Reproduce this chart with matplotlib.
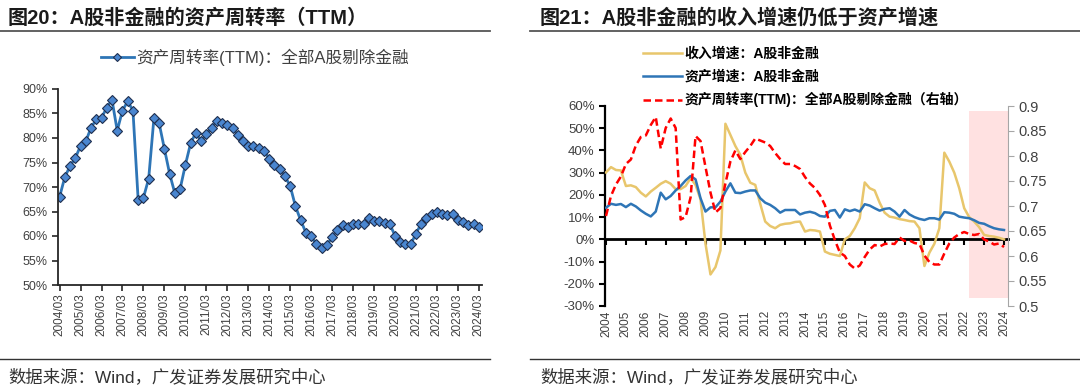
import matplotlib
matplotlib.use("Agg")
import matplotlib.pyplot as plt
from matplotlib.ticker import FuncFormatter, FixedLocator

plt.rcParams['font.family'] = ['Liberation Sans', 'Noto Sans CJK SC', 'DejaVu Sans']
plt.rcParams['axes.unicode_minus'] = False

# ---------------- data ----------------
quarters = [f"{y}/{m:02d}" for y in range(2004, 2025) for m in (3, 6, 9, 12)][:81]

turnover_pct = [68.0, 72.0, 74.3, 75.9, 78.4, 79.3, 82.1, 83.8, 84.1, 86.2,
                87.8, 81.5, 85.6, 87.5, 85.6, 67.3, 67.8, 71.7, 84.0, 83.0,
                77.8, 72.7, 68.7, 69.6, 74.5, 78.9, 81.1, 79.4, 80.8, 82.0,
                83.5, 83.1, 82.7, 82.0, 80.6, 79.4, 78.4, 78.4, 78.0, 77.4,
                75.8, 74.5, 73.6, 72.2, 70.2, 66.1, 63.2, 60.7, 60.0, 58.3,
                57.5, 58.1, 59.8, 61.3, 62.2, 61.9, 62.4, 62.5, 62.4, 63.7,
                63.0, 63.1, 62.6, 62.4, 60.1, 58.8, 58.3, 58.3, 60.5, 62.5,
                63.7, 64.4, 64.8, 64.4, 64.2, 64.4, 63.3, 62.9, 62.3, 62.5,
                61.8]

revenue_growth = [30.1, 32.5, 31.2, 31.0, 24.0, 24.3, 23.5, 21.0, 19.3, 21.5,
                  23.2, 25.0, 26.2, 25.0, 22.6, 22.6, 24.0, 27.5, 24.5, 18.0,
                  -2.0, -15.8, -12.5, -5.0, 52.0, 47.0, 42.0, 38.0, 30.0, 25.5,
                  24.5, 16.0, 8.0, 6.0, 5.0, 6.5, 7.0, 7.2, 7.8, 8.0,
                  3.5, 4.2, 4.0, 3.5, -5.5, -6.5, -7.0, -7.5, 0.0, 1.5,
                  5.0, 9.5, 25.6, 23.0, 22.0, 16.5, 12.0, 10.2, 9.8, 9.1,
                  8.7, 8.2, 8.0, 5.0, -12.0, -6.0, -2.0, 5.0, 39.0, 35.0,
                  30.0, 23.0, 14.0, 10.0, 8.0, 5.5, 2.0, 1.5, 1.2, 0.7,
                  0.0]

asset_growth = [14.2, 16.0, 15.5, 15.9, 14.5, 16.0, 14.8, 13.0, 11.5, 10.3,
                12.5, 21.0, 18.0, 19.5, 22.0, 24.0, 26.5, 28.5, 27.0, 18.5,
                12.5, 14.4, 14.4, 17.0, 21.5, 25.2, 21.0, 20.8, 21.5, 22.0,
                22.0, 18.5, 16.5, 15.5, 14.0, 12.0, 13.2, 13.2, 13.2, 11.2,
                12.0, 12.4, 11.8, 10.5, 10.2, 12.8, 13.2, 9.8, 13.5, 12.7,
                13.4, 12.5, 15.8, 15.2, 14.0, 12.9, 13.7, 14.0, 12.5, 10.2,
                13.2, 11.2, 10.0, 9.2, 8.7, 9.5, 9.5, 8.9, 12.2, 12.0,
                11.5, 10.2, 9.8, 9.5, 8.6, 7.4, 7.0, 5.9, 5.0, 4.5,
                4.2]

turnover_ratio = [v / 100 for v in turnover_pct]

shade_start = "2022/06"

title_left = "图20：A股非金融的资产周转率（TTM）"
title_right = "图21：A股非金融的收入增速仍低于资产增速"
legend_left = "资产周转率(TTM)：全部A股剔除金融"
legend_rev = "收入增速：A股非金融"
legend_asset = "资产增速：A股非金融"
legend_turn = "资产周转率(TTM)：全部A股剔除金融（右轴）"
source = "数据来源：Wind，广发证券发展研究中心"

# ---------------- figure ----------------
W, H = 1080, 391
fig = plt.figure(figsize=(W / 100, H / 100), dpi=100)
fig.patch.set_facecolor("white")

def fx(px):
    return px / W

def fy(py):
    return 1 - py / H

TXT = "#404040"
x = list(range(len(quarters)))

# titles & rules
fig.text(fx(8), fy(18), title_left, fontsize=14.5, fontweight="bold", color="#1a1a1a",
         va="center", ha="left")
fig.text(fx(540), fy(18), title_right, fontsize=14.5, fontweight="bold", color="#1a1a1a",
         va="center", ha="left")
fig.add_artist(plt.Line2D([fx(0), fx(490)], [fy(31), fy(31)], color="#555555", lw=1.3))
fig.add_artist(plt.Line2D([fx(530), fx(1080)], [fy(31), fy(31)], color="#555555", lw=1.3))
fig.add_artist(plt.Line2D([fx(0), fx(490)], [fy(359), fy(359)], color="#333333", lw=1.0))
fig.add_artist(plt.Line2D([fx(530), fx(1080)], [fy(359), fy(359)], color="#333333", lw=1.0))
fig.text(fx(8), fy(377), source, fontsize=12.5, color="#333333", va="center", ha="left")
fig.text(fx(540), fy(377), source, fontsize=12.5, color="#333333", va="center", ha="left")

# ---------------- left chart ----------------
axL = fig.add_axes([fx(58), fy(285), fx(482) - fx(58), fy(89) - fy(285)])
axL.plot(x, turnover_pct, color="#2E75B6", lw=2.0, marker="D", markersize=5,
         markerfacecolor="#4A86D0", markeredgecolor="#1F2F4F", markeredgewidth=0.8,
         label=legend_left)
axL.set_xlim(-0.3, 80.6)
axL.set_ylim(50, 90)
axL.set_yticks(range(50, 91, 5))
axL.yaxis.set_major_formatter(FuncFormatter(lambda v, p: f"{v:.0f}%"))
axL.set_xticks(x[::4])
axL.set_xticklabels(quarters[::4], rotation=90, fontsize=8.5, color=TXT)
for s in ("top", "right"):
    axL.spines[s].set_visible(False)
for s in ("left", "bottom"):
    axL.spines[s].set_color("#262626")
    axL.spines[s].set_linewidth(1.3)
axL.tick_params(axis="y", labelsize=9, colors=TXT, length=4, width=1.2, direction="out",
                color="#262626")
axL.tick_params(axis="x", length=4, width=1.2, direction="out", color="#262626", pad=2)
axL.legend(loc="center", bbox_to_anchor=(fx(255), fy(57)), bbox_transform=fig.transFigure,
           frameon=False, fontsize=12, handlelength=2.0, handletextpad=0.15,
           labelcolor=TXT, markerscale=0.9)

# ---------------- right chart ----------------
axR = fig.add_axes([fx(605), fy(306), fx(1008) - fx(605), fy(106) - fy(306)])
i0 = quarters.index(shade_start)
axR.set_xlim(-0.2, 80.8)
axR.axvspan(i0, 80.8, ymin=0.04, ymax=0.975, color="#FFE1E1", lw=0, zorder=0)
l1, = axR.plot(x, revenue_growth, color="#E8C66C", lw=1.8, label=legend_rev, zorder=3)
l2, = axR.plot(x, asset_growth, color="#2E75B6", lw=1.8, label=legend_asset, zorder=3)
axR.set_ylim(-30, 60)
axR.set_yticks(range(-30, 61, 10))
axR.yaxis.set_major_formatter(FuncFormatter(lambda v, p: f"{v:.0f}%"))
axR.spines["top"].set_visible(False)
axR.spines["right"].set_visible(False)
axR.spines["left"].set_color("black")
axR.spines["left"].set_linewidth(1.6)
axR.spines["bottom"].set_position(("data", 0))
axR.spines["bottom"].set_color("black")
axR.spines["bottom"].set_linewidth(2.0)
axR.spines["bottom"].set_zorder(2)
axR.set_xticks(x[::4])
axR.tick_params(axis="x", labelbottom=False, length=4, width=1.5, direction="out", color="black")
axR.tick_params(axis="y", labelsize=9.5, colors=TXT, length=4, width=1.5, direction="out",
                color="black")
sec = axR.secondary_xaxis("bottom")
sec.set_xticks(x[::4])
sec.set_xticklabels([q[:4] for q in quarters[::4]], rotation=90, fontsize=8.5, color=TXT)
sec.tick_params(length=0, pad=3)
sec.spines["bottom"].set_visible(False)

ax2 = axR.twinx()
ax2.set_position(axR.get_position())
l3, = ax2.plot(x, turnover_ratio, color="#FF0000", lw=1.8, ls=(0, (3, 1.6)), label=legend_turn)
ax2.set_ylim(0.5, 0.9)
ax2.yaxis.set_major_locator(FixedLocator([0.5 + 0.05 * k for k in range(9)]))
ax2.yaxis.set_major_formatter(FuncFormatter(lambda v, p: f"{round(v, 2):g}"))
for s in ("top", "left", "bottom"):
    ax2.spines[s].set_visible(False)
ax2.spines["right"].set_color("#A6A6A6")
ax2.spines["right"].set_linewidth(0.8)
ax2.tick_params(axis="y", labelsize=10.5, colors=TXT, length=4, width=0.8, color="#A6A6A6")

ax2.legend(handles=[l1, l2, l3], loc="upper left", bbox_to_anchor=(fx(643), fy(47)),
           bbox_transform=fig.transFigure, frameon=False, handlelength=2.8,
           handletextpad=0.2, labelspacing=0.62, borderaxespad=0, borderpad=0,
           prop={"weight": "bold", "size": 10})

fig.savefig("out.png", dpi=100, facecolor="white")
